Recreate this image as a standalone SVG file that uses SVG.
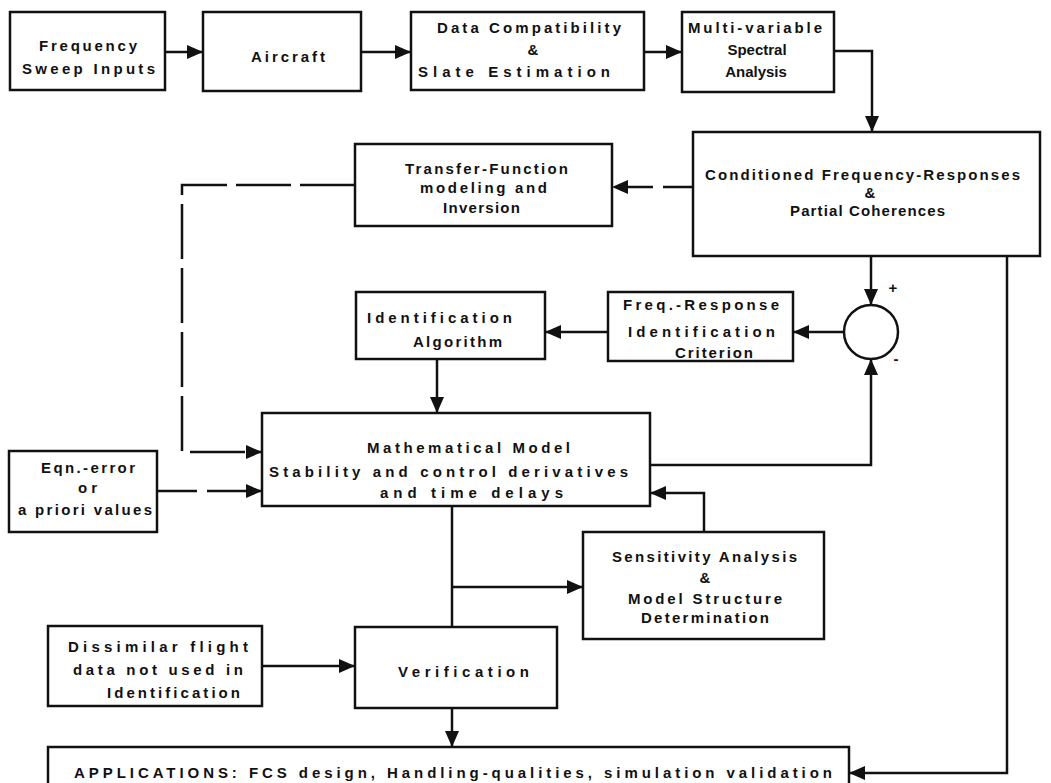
<svg xmlns="http://www.w3.org/2000/svg" width="1051" height="783" viewBox="0 0 1051 783">
<style>
.box{fill:#fff;stroke:#111;stroke-width:2.5}
.ln{fill:none;stroke:#111;stroke-width:2.5}
.da{stroke-dasharray:55 9}
.t{font-family:"Liberation Sans",Arial,sans-serif;font-weight:bold;font-size:15px;fill:#111}
.m{text-anchor:middle}
</style>
<defs>
<marker id="ah" markerUnits="userSpaceOnUse" markerWidth="17" markerHeight="15" refX="16" refY="7" orient="auto">
<path d="M0,0 L16,7 L0,14 z" fill="#111"/>
</marker>
</defs>
<rect width="1051" height="783" fill="#fff"/>

<g id="connectors">
<path class="ln" d="M165,52 H203" marker-end="url(#ah)"/>
<path class="ln" d="M361,52 H411" marker-end="url(#ah)"/>
<path class="ln" d="M644,52 H682" marker-end="url(#ah)"/>
<path class="ln" d="M834,51 H872 V132" marker-end="url(#ah)"/>
<path class="ln" d="M871,256 V305" marker-end="url(#ah)"/>
<path class="ln" d="M844,332 H793" marker-end="url(#ah)"/>
<path class="ln" d="M608,332 H545" marker-end="url(#ah)"/>
<path class="ln" d="M437,359 V413" marker-end="url(#ah)"/>
<path class="ln" d="M650,465 H871 V359" marker-end="url(#ah)"/>
<path class="ln" d="M704,532 V493 H650" marker-end="url(#ah)"/>
<path class="ln" d="M452,506 V627"/>
<path class="ln" d="M452,587 H583" marker-end="url(#ah)"/>
<path class="ln" d="M262,666 H355" marker-end="url(#ah)"/>
<path class="ln" d="M452,708 V747" marker-end="url(#ah)"/>
<path class="ln" d="M1007,256 V773 H849" marker-end="url(#ah)"/>
<path class="ln" d="M693,187 H612" style="stroke-dasharray:30 10" marker-end="url(#ah)"/>
<path class="ln da" d="M355,185 H182 V452 H262" marker-end="url(#ah)"/>
<path class="ln" d="M157,491 H262" style="stroke-dasharray:40 10" marker-end="url(#ah)"/>
</g>

<g id="freq-sweep">
<rect class="box" x="10" y="12" width="155" height="78"/>
<text class="t" x="39" y="51" textLength="98">Frequency</text>
<text class="t" x="22" y="74" textLength="133">Sweep Inputs</text>
</g>

<g id="aircraft">
<rect class="box" x="203" y="12" width="158" height="79"/>
<text class="t" x="251" y="62" textLength="74">Aircraft</text>
</g>

<g id="data-compat">
<rect class="box" x="411" y="12" width="233" height="78"/>
<text class="t" x="437" y="33" textLength="184">Data Compatibility</text>
<text class="t m" x="533" y="55">&amp;</text>
<text class="t" x="418" y="77" textLength="192">Slate Estimation</text>
</g>

<g id="spectral">
<rect class="box" x="682" y="12" width="152" height="80"/>
<text class="t" x="688" y="33" textLength="134">Multi-variable</text>
<text class="t m" x="757" y="55">Spectral</text>
<text class="t m" x="756" y="77">Analysis</text>
</g>

<g id="conditioned">
<rect class="box" x="693" y="132" width="347" height="124"/>
<text class="t" x="705" y="180" textLength="315">Conditioned Frequency-Responses</text>
<text class="t m" x="870" y="198">&amp;</text>
<text class="t" x="790" y="216" textLength="155">Partial Coherences</text>
</g>

<g id="transfer">
<rect class="box" x="355" y="144" width="257" height="82"/>
<text class="t" x="405" y="174" textLength="163">Transfer-Function</text>
<text class="t" x="420" y="193" textLength="127">modeling and</text>
<text class="t" x="443" y="213" textLength="77">Inversion</text>
</g>

<g id="ident-alg">
<rect class="box" x="356" y="292" width="189" height="67"/>
<text class="t" x="367" y="323" textLength="145">Identification</text>
<text class="t" x="413" y="347" textLength="89">Algorithm</text>
</g>

<g id="criterion">
<rect class="box" x="608" y="292" width="185" height="69"/>
<text class="t" x="623" y="310" textLength="156">Freq.-Response</text>
<text class="t" x="628" y="337" textLength="147">Identification</text>
<text class="t" x="675" y="358" textLength="78">Criterion</text>
</g>

<g id="summer">
<circle cx="871" cy="332" r="27" fill="#fff" stroke="#111" stroke-width="2.5"/>
<text class="t m" x="893" y="293">+</text>
<text class="t m" x="896" y="364">-</text>
</g>

<g id="math-model">
<rect class="box" x="262" y="413" width="388" height="93"/>
<text class="t" x="367" y="453" textLength="203">Mathematical Model</text>
<text class="t" x="269" y="477" textLength="359">Stability and control derivatives</text>
<text class="t" x="380" y="498" textLength="183">and time delays</text>
</g>

<g id="eqn-error">
<rect class="box" x="9" y="451" width="148" height="81"/>
<text class="t" x="41" y="473" textLength="94">Eqn.-error</text>
<text class="t" x="78" y="493" textLength="19">or</text>
<text class="t" x="18" y="515" textLength="134">a priori values</text>
</g>

<g id="sensitivity">
<rect class="box" x="583" y="532" width="241" height="107"/>
<text class="t" x="612" y="562" textLength="185">Sensitivity Analysis</text>
<text class="t m" x="705" y="583">&amp;</text>
<text class="t" x="628" y="604" textLength="154">Model Structure</text>
<text class="t" x="641" y="623" textLength="128">Determination</text>
</g>

<g id="dissimilar">
<rect class="box" x="48" y="626" width="214" height="80"/>
<text class="t" x="68" y="652" textLength="180">Dissimilar flight</text>
<text class="t" x="73" y="675" textLength="170">data not used in</text>
<text class="t" x="107" y="698" textLength="133">Identification</text>
</g>

<g id="verification">
<rect class="box" x="355" y="627" width="202" height="81"/>
<text class="t" x="398" y="677" textLength="131">Verification</text>
</g>

<g id="applications">
<rect class="box" x="48" y="747" width="801" height="60"/>
<text class="t" x="74" y="778" textLength="758">APPLICATIONS: FCS design, Handling-qualities, simulation validation</text>
</g>
</svg>
